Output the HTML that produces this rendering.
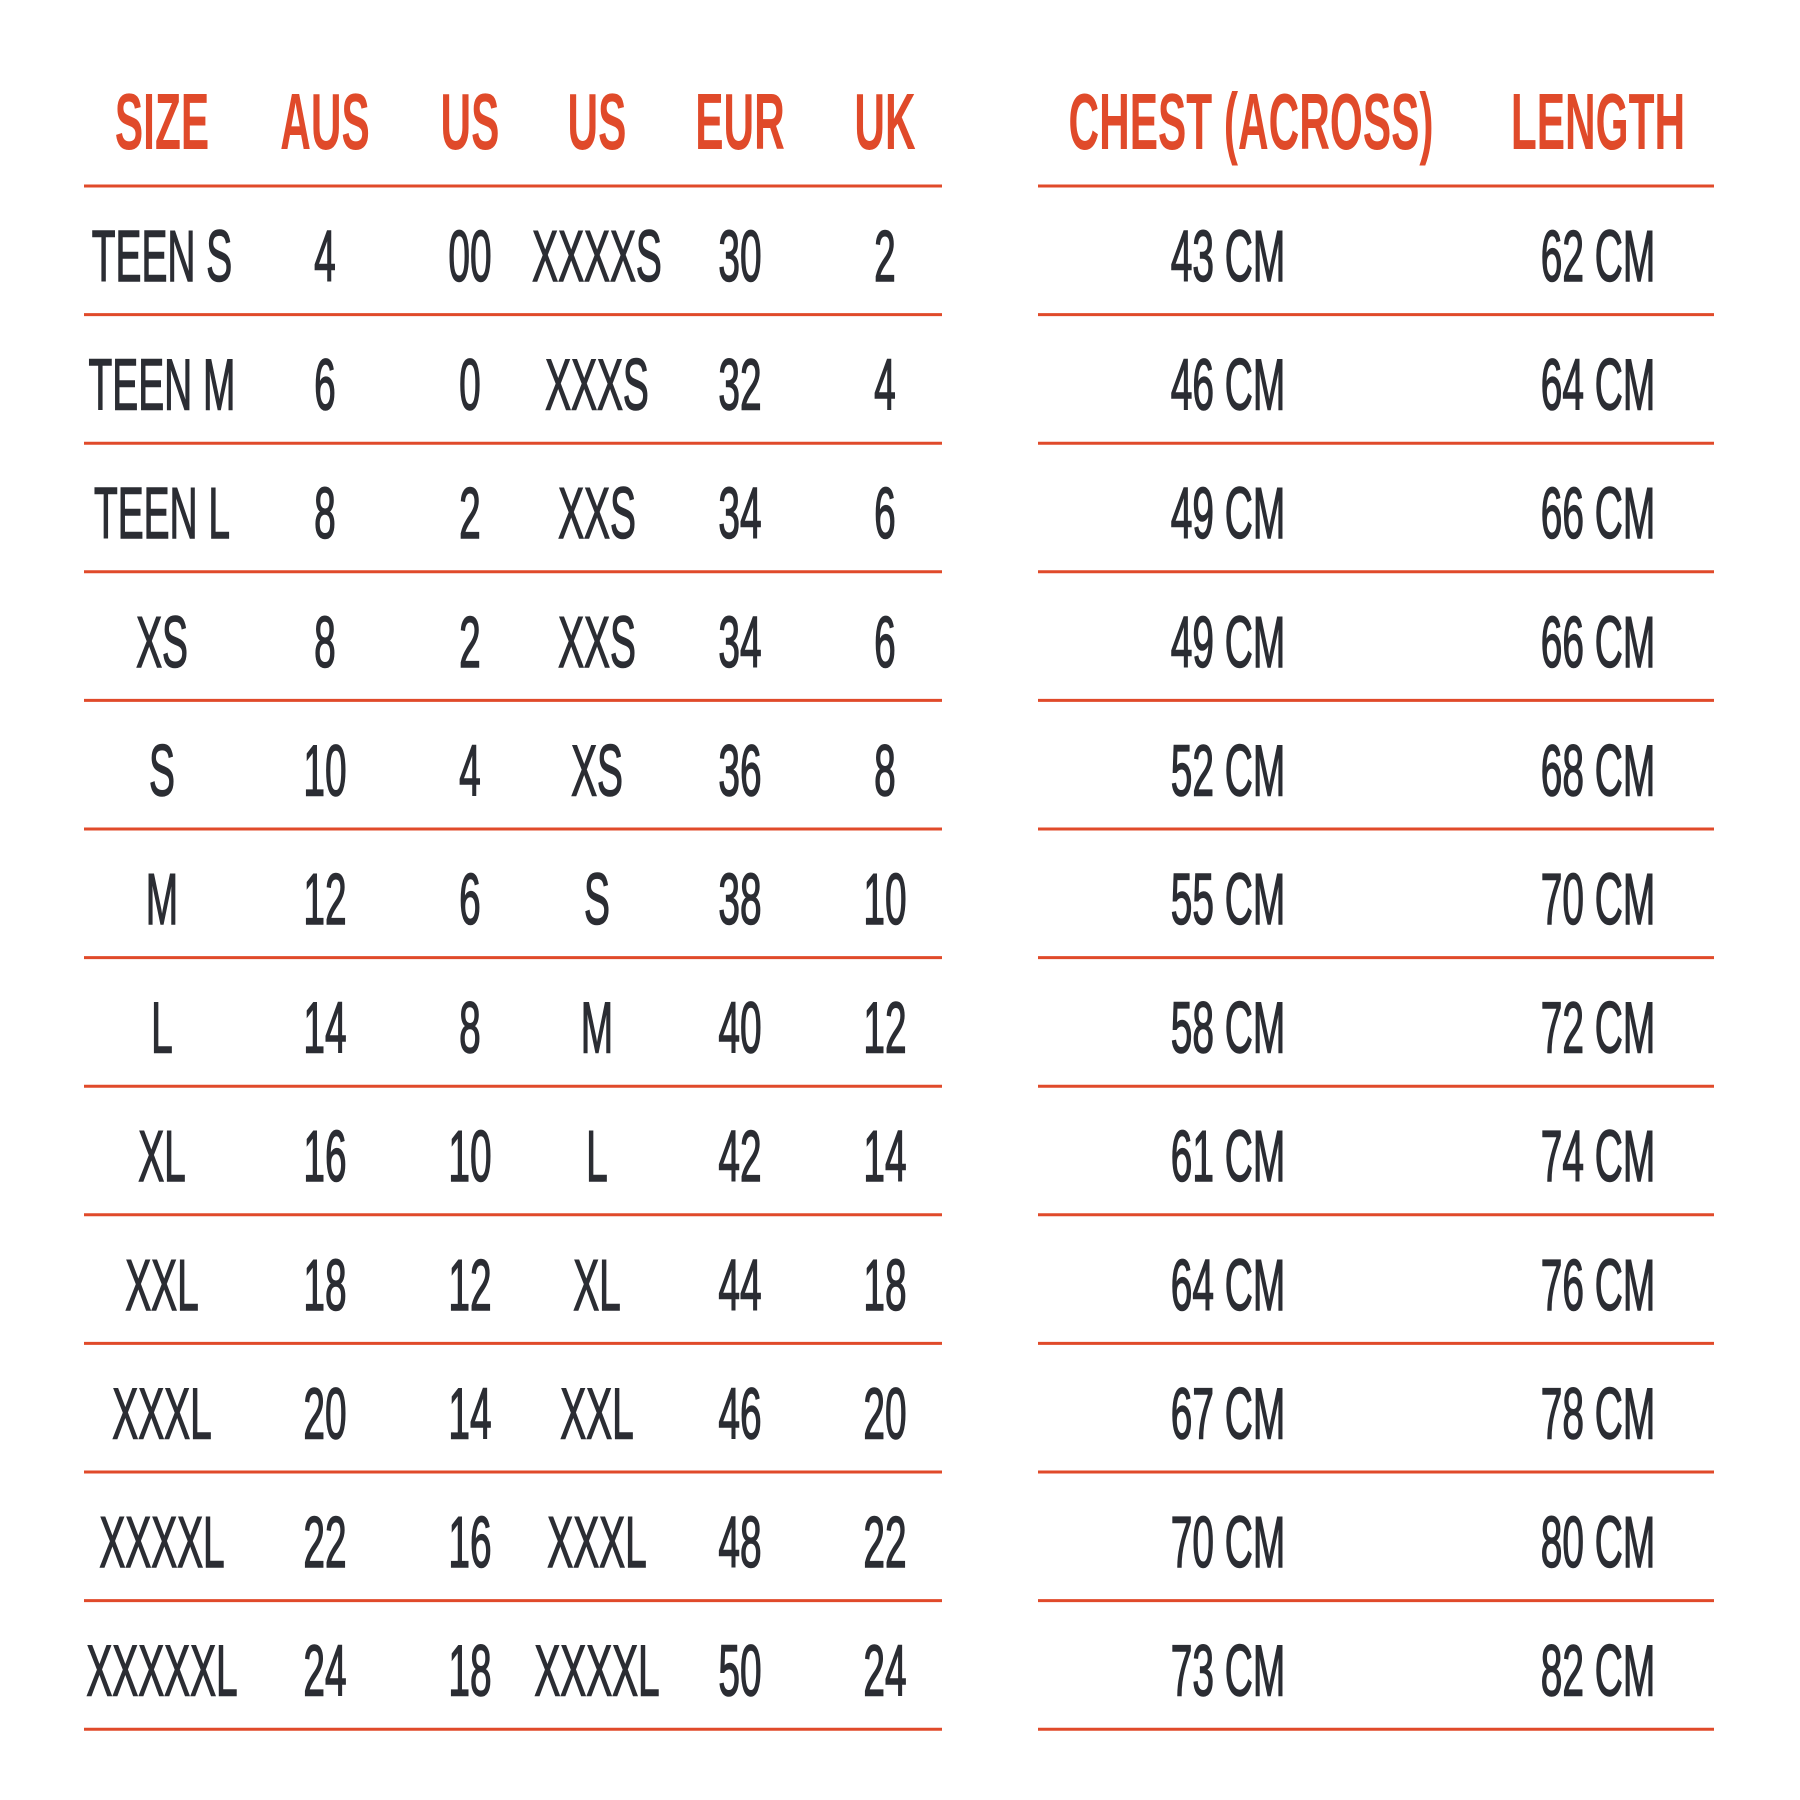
<!DOCTYPE html>
<html><head><meta charset="utf-8"><style>html,body{margin:0;padding:0;background:#fff}svg{display:block}</style></head>
<body>
<svg width="1800" height="1800" xmlns="http://www.w3.org/2000/svg" font-family="'Liberation Sans', sans-serif" text-anchor="middle">
<g fill="#e04a2a" font-weight="bold" font-size="80">
<text transform="translate(162,149) scale(0.53,1)">SIZE</text>
<text transform="translate(325,149) scale(0.53,1)">AUS</text>
<text transform="translate(470,149) scale(0.53,1)">US</text>
<text transform="translate(597,149) scale(0.53,1)">US</text>
<text transform="translate(740,149) scale(0.53,1)">EUR</text>
<text transform="translate(885,149) scale(0.53,1)">UK</text>
<text transform="translate(1251,149) scale(0.53,1)">CHEST (ACROSS)</text>
<text transform="translate(1598,149) scale(0.53,1)">LENGTH</text>
</g>
<g id="lines" stroke="#e04a2a" stroke-width="3"></g>
<g id="rows" fill="#2b2d33" stroke="#2b2d33" stroke-width="1.5" font-size="72"></g>
<script>
var L=document.getElementById('lines'),R=document.getElementById('rows'),ns='http://www.w3.org/2000/svg';
for(var i=0;i<13;i++){var y=186+i*128.6;
[[84,942],[1038,1714]].forEach(function(s){var l=document.createElementNS(ns,'line');l.setAttribute('x1',s[0]);l.setAttribute('x2',s[1]);l.setAttribute('y1',y);l.setAttribute('y2',y);L.appendChild(l);});}
var d=[["TEEN S","4","00","XXXXS","30","2","43 CM","62 CM"],["TEEN M","6","0","XXXS","32","4","46 CM","64 CM"],["TEEN L","8","2","XXS","34","6","49 CM","66 CM"],["XS","8","2","XXS","34","6","49 CM","66 CM"],["S","10","4","XS","36","8","52 CM","68 CM"],["M","12","6","S","38","10","55 CM","70 CM"],["L","14","8","M","40","12","58 CM","72 CM"],["XL","16","10","L","42","14","61 CM","74 CM"],["XXL","18","12","XL","44","18","64 CM","76 CM"],["XXXL","20","14","XXL","46","20","67 CM","78 CM"],["XXXXL","22","16","XXXL","48","22","70 CM","80 CM"],["XXXXXL","24","18","XXXXL","50","24","73 CM","82 CM"]];
var xs=[162,325,470,597,740,885,1228,1598];
d.forEach(function(r,i){var y=281+i*128.6;r.forEach(function(t,j){var e=document.createElementNS(ns,'text');e.setAttribute('transform','translate('+xs[j]+','+y+') scale(0.54,1)');e.textContent=t;R.appendChild(e);});});
</script>
</svg>
</body></html>
